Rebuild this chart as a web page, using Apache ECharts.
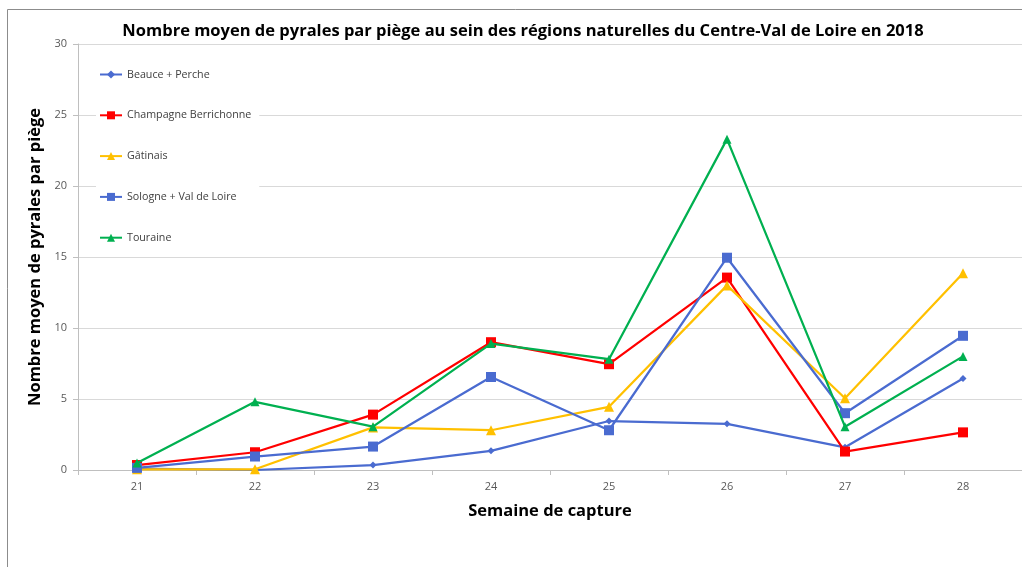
<!DOCTYPE html>
<html>
<head>
<meta charset="utf-8">
<script src="https://cdn.jsdelivr.net/npm/echarts@6/dist/echarts.min.js"></script>
<style>
html,body{margin:0;padding:0;background:#fff;}
#chart{width:1022px;height:567px;}
</style>
</head>
<body>
<div id="chart"></div>
<script>
const categories = ['21','22','23','24','25','26','27','28'];
const beauce = [0.1, 0.0, 0.35, 1.35, 3.45, 3.25, 1.6, 6.45];
const champagne = [0.35, 1.25, 3.9, 9.0, 7.45, 13.55, 1.3, 2.65];
const gatinais = [0.05, 0.05, 3.0, 2.8, 4.45, 13.0, 5.05, 13.85];
const sologne = [0.15, 0.95, 1.65, 6.55, 2.8, 14.95, 4.0, 9.45];
const touraine = [0.5, 4.8, 3.05, 8.9, 7.8, 23.3, 3.05, 8.0];
const seriesNames = ['Beauce + Perche','Champagne Berrichonne','Gâtinais','Sologne + Val de Loire','Touraine'];
const seriesColors = ['#4a6bd0','#ff0000','#ffc000','#4a6bd0','#00b050'];
const seriesSymbols = ['diamond','rect','triangle','rect','triangle'];
const symbolSizes = [7,10,10,10,9];
const title = 'Nombre moyen de pyrales par piège au sein des régions naturelles du Centre-Val de Loire en 2018';
const xName = 'Semaine de capture';
const yName = 'Nombre moyen de pyrales par piège';

const dataSets = [beauce, champagne, gatinais, sologne, touraine];
const font = 'Open Sans';

const chart = echarts.init(document.getElementById('chart'), null, {renderer:'canvas'});
chart.setOption({
  backgroundColor:'#fff',
  animation:false,
  title:{
    text:title, left:518, top:18, textAlign:'center',
    textStyle:{fontFamily:font, fontWeight:'bold', fontSize:16.5, color:'#000'}
  },
  graphic:[{
    type:'rect', z:-1, silent:true,
    shape:{x:7.5,y:9.5,width:1200,height:1000},
    style:{fill:null, stroke:'#8c8c8c', lineWidth:1}
  }],
  legend:{
    orient:'vertical', left:96, top:65,
    itemWidth:22, itemHeight:10, itemGap:29.8,
    backgroundColor:'#fff', padding:[4,8,4,3],
    textStyle:{fontFamily:font, fontSize:10.7, color:'#404040'},
    data:seriesNames
  },
  grid:{left:78, top:44, width:952, height:426},
  xAxis:{
    type:'category', data:categories, boundaryGap:true,
    name:xName, nameLocation:'middle', nameGap:33,
    nameTextStyle:{fontFamily:font, fontWeight:'bold', fontSize:16.5, color:'#000'},
    axisLine:{lineStyle:{color:'#bfbfbf', width:1}},
    axisTick:{show:true, length:5, lineStyle:{color:'#bfbfbf'}},
    axisLabel:{fontFamily:font, fontSize:11, color:'#595959', margin:11},
    splitLine:{show:false}
  },
  yAxis:{
    type:'value', min:0, max:30, interval:5,
    name:yName, nameLocation:'middle', nameGap:31, nameRotate:90,
    nameTextStyle:{fontFamily:font, fontWeight:'bold', fontSize:16.5, color:'#000'},
    axisLine:{show:true, lineStyle:{color:'#bfbfbf', width:1}},
    axisTick:{show:true, length:5, lineStyle:{color:'#bfbfbf'}},
    axisLabel:{fontFamily:font, fontSize:11, color:'#595959', margin:11},
    splitLine:{lineStyle:{color:'#d9d9d9', width:1}}
  },
  series: seriesNames.map((n,i)=>({
    name:n, type:'line', data:dataSets[i],
    symbol:seriesSymbols[i], symbolSize:symbolSizes[i], showAllSymbol:true,
    lineStyle:{color:seriesColors[i], width:2.25},
    itemStyle:{color:seriesColors[i], borderWidth:0},
    z:2+i
  }))
});
</script>
</body>
</html>
